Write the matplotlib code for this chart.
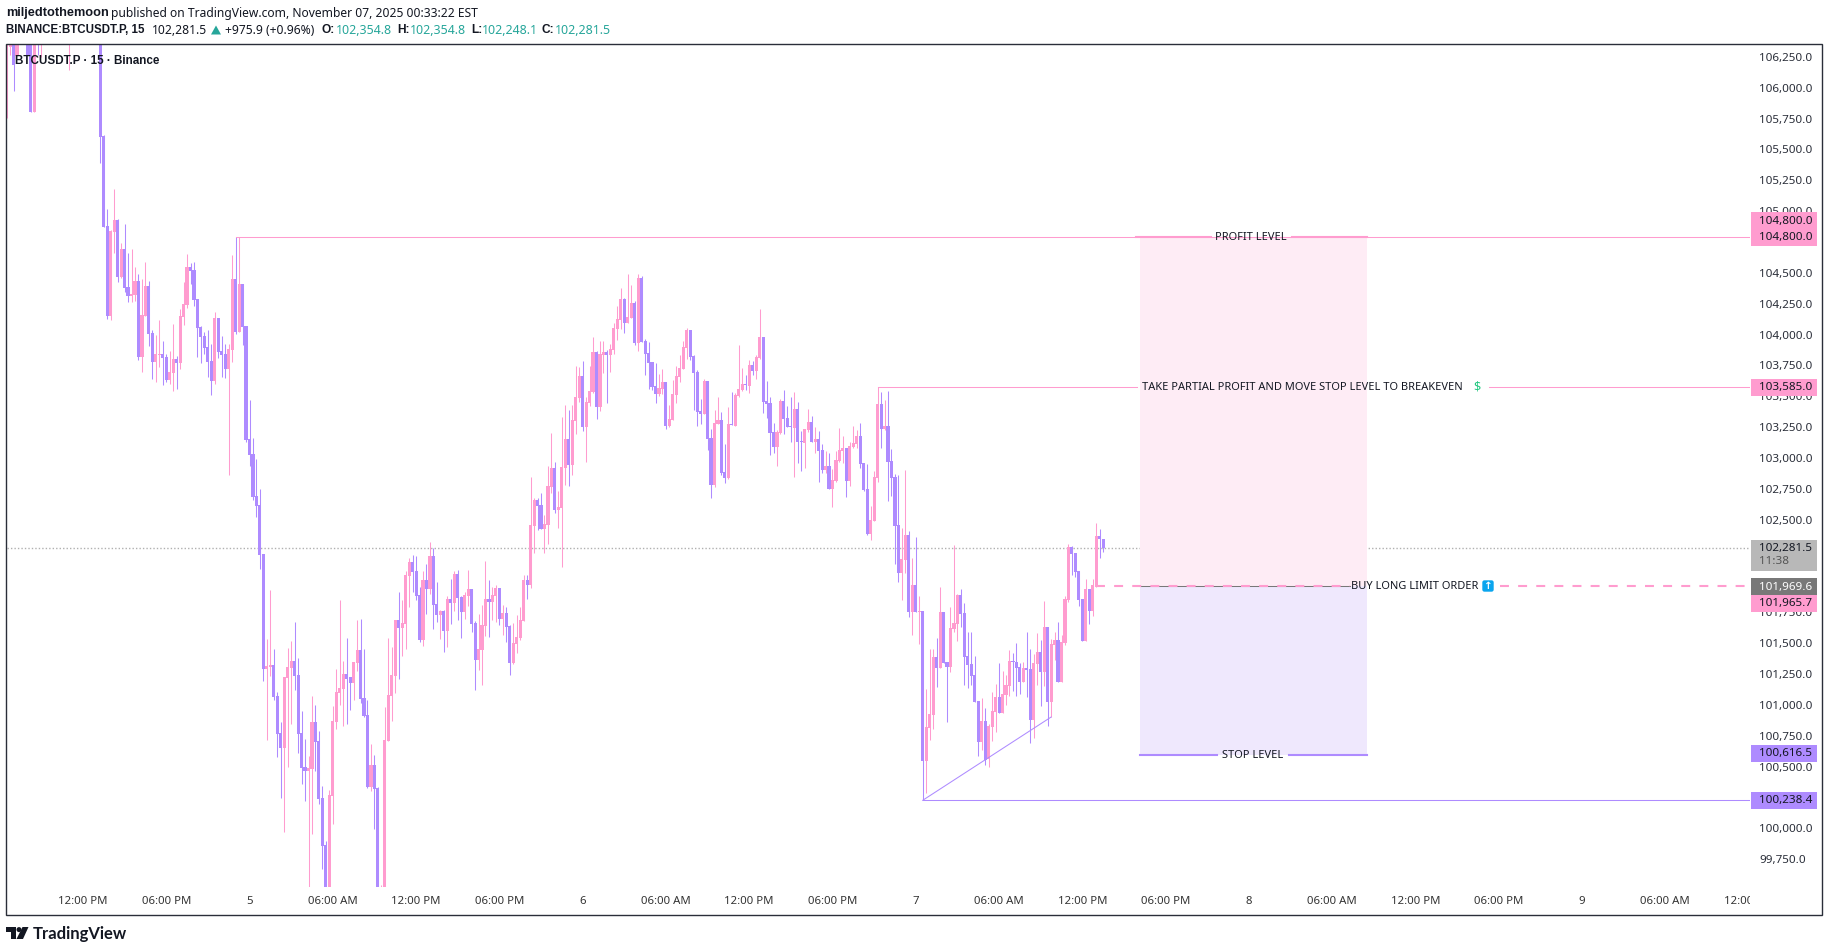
import matplotlib
matplotlib.use("Agg")
import matplotlib.pyplot as plt
from matplotlib.patches import Rectangle, Polygon, Circle, FancyBboxPatch
from matplotlib.transforms import Bbox, ScaledTranslation
import numpy as np

plt.rcParams['font.family'] = ['Noto Sans', 'DejaVu Sans']

# BTCUSDT.P 15 minute bars (bars above the pane are estimates)
opens = [106133,106345,106700,106268,106600,106450,106650,106500,105817,106600,
 106450,106650,106500,106700,106550,106800,106600,106700,106500,106750,
 106600,106500,106650,106800,106600,106700,106500,106550,105623,104891,
 104162,104845,104940,104478,104705,104397,104327,104332,104446,103832,
 104165,104405,104024,103792,103849,103854,103830,103646,103703,103814,
 103784,104157,104254,104559,104535,104300,104073,104000,103911,103797,
 103638,104146,103878,103854,103735,103889,104462,104035,104421,104081,
 103165,103044,102704,102631,102234,101302,101318,101334,101083,100783,
 100662,101229,101310,101367,101253,100783,100508,100475,100491,100872,
 100718,100256,99876,99400,100273,100872,101107,101140,101261,101237,
 101188,101350,101456,101067,100929,100346,100524,100337,99300,99450,
 100718,101083,101245,101699,101634,101666,102055,102169,102096,101901,
 101537,102023,101950,102217,101828,101739,101772,101610,101869,101836,
 102072,101885,101764,101893,101950,101674,101375,101456,101650,101869,
 101845,101893,101958,101707,101755,101650,101350,101504,101553,101690,
 102023,101982,102461,102671,102631,102436,102469,102777,102931,102590,
 102606,102931,103166,102955,103311,103498,103676,103263,103457,103546,
 103870,103425,103846,103870,103846,103887,104057,104130,104300,104105,
 104146,104268,103943,104470,103960,103862,103789,103595,103530,103571,
 103627,103271,103319,103522,103668,103733,103903,104049,103838,103708,
 103392,103368,103635,103174,102793,103287,103319,102898,102850,103287,
 103271,103514,103563,103611,103595,103765,103717,103822,103992,103473,
 103457,103222,103101,103214,103473,103336,103271,103255,103409,103149,
 103133,103238,103303,103141,103166,103076,102914,102947,102760,102825,
 102987,103068,103093,102825,103101,103125,103190,102971,102760,102396,
 102501,102850,103449,103247,103271,102988,102858,102469,102080,102185,
 102388,101764,101983,101764,101772,100557,100824,100929,101399,101310,
 101764,101359,101318,101626,101667,101902,101756,101407,101343,101253,
 101043,100711,100881,100573,100832,100954,101075,100946,101092,101164,
 101367,101359,101318,101197,101310,101302,100889,101343,101440,101278,
 101642,101035,101497,101537,101197,101513,101861,102291,102242,102096,
 101869,101529,101950,101772,101966,102380,102354.8]
highs = [106900,106800,106800,106750,106700,106750,106720,106560,106600,106650,
 106700,106720,106760,106800,106850,106900,106780,106760,106850,106800,
 106700,106750,106880,106850,106780,106720,106650,106700,105625,105029,
 104859,105191,104948,104751,104907,104672,104705,104556,104502,104464,
 104600,104446,104049,104008,104130,103959,103854,103878,104097,103838,
 104219,104437,104664,104591,104600,104300,104081,104032,104049,103938,
 104194,104146,104000,103935,103938,104656,104800,104800,104421,104081,
 103481,103173,103004,102761,102234,101545,101942,101464,101115,100872,
 101237,101472,101529,101683,101391,100961,100735,100597,101083,101010,
 100799,100354,99908,100321,101002,101302,101861,101367,101553,101237,
 101358,101699,101707,101464,101051,100694,100605,100346,99551,100994,
 101553,101480,101699,101926,101861,102096,102201,102225,102217,101966,
 102096,102153,102331,102282,102007,101780,101780,101893,102031,102096,
 102104,101893,101926,102104,101950,101691,101747,101820,102177,102023,
 101966,101982,101958,101820,101804,101658,101674,101739,101804,102063,
 102063,102857,102687,102687,102728,102550,102947,103214,102979,102744,
 103344,103441,103400,103441,103757,103749,103798,103506,103757,103992,
 103879,103960,103960,103887,103935,104105,104243,104389,104308,104503,
 104413,104284,104503,104486,103976,103951,103789,103781,103692,103733,
 103627,103441,103644,103757,103846,103960,104065,104049,103846,103725,
 103490,103652,103635,103247,103400,103506,103384,103125,103425,103546,
 103538,103927,103741,103684,103806,103798,103846,104219,103992,103635,
 103506,103295,103238,103490,103563,103433,103506,103546,103465,103230,
 103247,103409,103352,103263,103230,103125,103068,103052,102922,103068,
 103255,103190,103093,103141,103271,103238,103295,102971,102963,102623,
 102906,103585,103547,103482,103555,103085,102882,102874,102445,102915,
 102420,102202,102372,101894,101772,101140,101464,101464,101553,101967,
 101764,101359,101805,102307,101910,101950,101837,101602,101602,101407,
 101043,101067,100986,100856,101116,101181,101351,101286,101254,101456,
 101432,101513,101351,101359,101602,101464,101424,101594,101537,101853,
 101642,101545,101602,101683,101578,101894,102315,102299,102242,102096,
 101869,102031,101950,102031,102485,102437,102354.8]
lows = [105763,106276,105987,106268,106420,106400,106276,105817,105817,106276,
 106263,106450,106450,106500,106500,106550,106500,106450,106155,106550,
 106450,106450,106600,106550,106550,106450,106480,105404,104880,104140,
 104132,104675,104440,104473,104359,104278,104278,104286,103808,103711,
 104162,103922,103652,103630,103751,103606,103630,103614,103557,103573,
 103735,104092,104230,104424,104246,103832,103784,103857,103670,103525,
 103614,103824,103668,103660,102876,103792,104016,104035,103930,103144,
 102949,102671,102536,102112,101205,100726,101245,101051,100589,100256,
 99981,100508,100856,101132,100621,100370,100232,99400,99965,100475,
 100208,99681,99350,99350,100046,100816,101010,100840,100856,100970,
 101051,101286,101026,100913,100337,100313,100005,99250,99250,99400,
 100718,100880,101107,101221,101407,101464,101804,101926,101861,101520,
 101488,101747,101909,101626,101683,101545,101439,101480,101666,101772,
 101699,101553,101707,101812,101602,101132,101294,101172,101569,101561,
 101699,101683,101658,101577,101520,101253,101342,101428,101536,101690,
 101869,101958,102242,102428,102436,102242,102315,102728,102566,102444,
 102128,102793,102785,102874,103206,103465,103230,102979,103433,103538,
 103328,103392,103700,103457,103708,103854,103968,104057,104024,104105,
 104146,103927,103879,103951,103684,103571,103563,103457,103514,103530,
 103247,103263,103319,103457,103627,103733,103814,103806,103400,103271,
 103287,103368,103076,102687,102777,103287,102874,102809,102841,103279,
 103271,103506,103554,103563,103538,103684,103652,103814,103376,103336,
 103036,103052,102947,103206,103206,103263,103141,102858,102971,102906,
 102931,103222,103141,103052,102817,102890,102890,102760,102614,102817,
 102979,102971,102696,102785,103093,103093,102931,102744,102388,102347,
 102501,102817,103093,103239,102663,102704,102153,102007,101861,102080,
 101723,101578,101764,101505,100238.4,100297,100727,100816,101156,101310,
 101351,100873,101278,101602,101529,101642,101173,101148,101173,101035,
 100597,100646,100524,100508,100719,100792,100946,100946,101010,101083,
 101124,101083,101100,101197,101075,100702,100743,101173,101002,101164,
 100840,100913,101375,101197,101197,101497,101845,102064,102048,101813,
 101529,101529,101667,101732,101966,102202,102248.1]
closes = [106700,106700,106195,106600,106450,106650,106276,105817,106500,106450,
 106600,106500,106700,106550,106800,106600,106700,106500,106750,106600,
 106500,106650,106800,106600,106700,106500,106550,105615,104886,104162,
 104853,104940,104478,104705,104389,104327,104340,104446,103832,104170,
 104405,104019,103792,103854,103854,103824,103646,103708,103814,103784,
 104162,104259,104559,104529,104294,104067,103995,103905,103792,103638,
 104146,103873,103849,103735,103895,104462,104035,104421,104076,103160,
 103038,102698,102623,102226,101302,101326,101334,101078,100775,100662,
 101237,101318,101367,101245,100775,100500,100475,100500,100872,100710,
 100248,99867,99400,100281,100880,101115,101148,101261,101221,101188,
 101358,101456,101059,100921,100346,100524,100329,99300,99450,100726,
 101091,101253,101699,101634,101674,102063,102169,102088,101893,101537,
 102023,101950,102217,101820,101739,101772,101610,101869,101836,102072,
 101877,101764,101901,101950,101666,101375,101464,101658,101869,101845,
 101901,101958,101707,101755,101642,101350,101512,101561,101698,102023,
 101982,102468,102671,102623,102436,102477,102785,102931,102590,102615,
 102939,103166,102955,103319,103506,103676,103263,103465,103554,103870,
 103425,103854,103870,103846,103895,104065,104138,104300,104105,104154,
 104268,103943,104470,103951,103854,103781,103587,103530,103579,103627,
 103271,103328,103530,103676,103741,103911,104049,103830,103700,103384,
 103368,103635,103166,102793,103295,103319,102890,102850,103287,103279,
 103522,103571,103611,103603,103765,103717,103830,103992,103465,103452,
 103214,103101,103222,103473,103328,103263,103263,103409,103141,103141,
 103247,103303,103141,103166,103068,102914,102947,102760,102833,102995,
 103076,103093,102825,103109,103133,103190,102963,102752,102396,102509,
 102858,103449,103247,103271,102979,102850,102461,102080,102193,102388,
 101764,101983,101764,101772,100557,100832,100938,101399,101310,101764,
 101351,101318,101634,101675,101902,101748,101399,101335,101245,101035,
 100711,100881,100565,100840,100962,101075,100946,101100,101172,101367,
 101359,101310,101197,101310,101294,100889,101351,101440,101278,101642,
 101035,101505,101537,101197,101521,101869,102291,102234,102088,101861,
 101529,101950,101772,101983,102380,102356,102281.5]

# time scale labels, every 24 bars
time_ticks = [22,46,70,94,118,142,166,190,214,238,262,286,310,334,358,382,406,430,454,478,502]
time_labels = ['12:00 PM','06:00 PM','5','06:00 AM','12:00 PM','06:00 PM','6','06:00 AM','12:00 PM','06:00 PM',
               '7','06:00 AM','12:00 PM','06:00 PM','8','06:00 AM','12:00 PM','06:00 PM','9','06:00 AM','12:00 PM']
# 100,250 104,750 102,250 and 102,000 sit fully under the price tags
price_ticks = [99750,100000,100500,100750,101000,101250,101500,101750,102500,102750,103000,103250,
               103500,103750,104000,104250,104500,105000,105250,105500,105750,106000,106250]

# levels
profit_level = 104800.0
partial_level = 103585.0
last_price = 102281.5
mark_price = 101969.6
entry_level = 101965.7
stop_level = 100616.5
swing_low = 100238.4
swing_bar = 264
trend_bar = 301
trend_price = 100913

PINK = '#ff9ccf'
PURPLE = '#ae8bff'
DARK = '#131722'
TEAL = '#26a69a'
BOLD = 'Liberation Sans'

W, H = 1829, 952
fig = plt.figure(figsize=(W / 100, H / 100), dpi=100, facecolor='white')

# main pane, 1 px = 8.102 price units, one bar = 3.47 px
ax = fig.add_axes([6.5 / W, 1 - 887 / H, (1750 - 6.5) / W, (887 - 44) / H], zorder=1)
ax.set_xlim(-0.03, 502.4)
ax.set_ylim(99536, 106366)
for s in ax.spines.values():
    s.set_visible(False)

# dotted last price line goes behind the candles
ax.axhline(last_price, color='#b0b0b0', lw=1, ls=(0, (1, 1.5)), zorder=1)

# trade boxes, the drawn edges sit slightly off the tag values
rect_l, rect_r = 326.6, 392.0
entry_edge = entry_level + 7
stop_edge = stop_level - 10
ax.add_patch(Rectangle((rect_l, entry_edge), rect_r - rect_l, profit_level - entry_edge, color='#feecf5', lw=0, zorder=1))
ax.add_patch(Rectangle((rect_l, stop_edge), rect_r - rect_l, entry_edge - stop_edge, color='#efe8fd', lw=0, zorder=1))

# candles
o = np.array(opens, dtype=float)
h = np.array(highs, dtype=float)
l = np.array(lows, dtype=float)
c = np.array(closes, dtype=float)
idx = np.arange(len(o))
up = c >= o
ax.vlines(idx[up], l[up], h[up], color=PINK, lw=0.75, zorder=2)
ax.vlines(idx[~up], l[~up], h[~up], color=PURPLE, lw=0.75, zorder=2)
ax.bar(idx[up], (c - o)[up], bottom=o[up], width=0.9, color=PINK, lw=0, antialiased=False, zorder=3)
ax.bar(idx[~up], (o - c)[~up], bottom=c[~up], width=0.9, color=PURPLE, lw=0, antialiased=False, zorder=3)

# level lines
xmax = 502.4
ax.plot([66, xmax], [profit_level] * 2, color=PINK, lw=0.75, zorder=4)
ax.plot([325.5, 347.1], [profit_level + 6] * 2, color=PINK, lw=1.5, zorder=4)
ax.plot([370.4, 392], [profit_level + 6] * 2, color=PINK, lw=1.5, zorder=4)
ax.plot([251, 325.8], [partial_level] * 2, color=PINK, lw=0.75, zorder=4)
ax.plot([427.2, xmax], [partial_level] * 2, color=PINK, lw=0.75, zorder=4)
ax.plot([326.6, 387.2], [entry_edge] * 2, color='#787878', lw=0.75, zorder=4)
dash = (0, (4.3, 4.4))
ax.plot([314, 387.2], [entry_edge] * 2, color=PINK, lw=1.5, ls=dash, zorder=4)
ax.plot([430.4, xmax], [entry_edge] * 2, color=PINK, lw=1.5, ls=dash, zorder=4)
ax.plot([326.6, 348.8], [stop_edge] * 2, color=PURPLE, lw=1.5, zorder=4)
ax.plot([369.6, 392], [stop_edge] * 2, color=PURPLE, lw=1.5, zorder=4)
ax.plot([swing_bar, xmax], [swing_low] * 2, color=PURPLE, lw=0.75, zorder=4)
ax.plot([swing_bar, trend_bar], [swing_low, trend_price], color=PURPLE, lw=0.75, zorder=4)

# level labels
lab = dict(color=DARK, fontsize=7.95, va='center', zorder=5, clip_on=False)
ax.text(358.6, profit_level - 4, 'PROFIT LEVEL', ha='center', **lab)
ax.text(327.1, partial_level - 4, 'TAKE PARTIAL PROFIT AND MOVE STOP LEVEL TO BREAKEVEN', ha='left', **lab)
ax.text(423.7, partial_level, '$', ha='center', va='center', color='#1fc77e', fontsize=9, fontweight='bold', zorder=5)
ax.text(387.3, entry_edge - 4, 'BUY LONG LIMIT ORDER', ha='left', **lab)
ax.text(359.2, stop_edge - 4, 'STOP LEVEL', ha='center', **lab)

# axes ticks
ax.yaxis.tick_right()
ax.set_yticks(price_ticks)
ax.set_yticklabels([f'{p:,.1f}' for p in price_ticks], fontsize=8.4, color='#2a2e39')
ax.set_xticks(time_ticks)
ax.set_xticklabels(time_labels, fontsize=8.2, color='#333333')
ax.tick_params(axis='both', length=0)
ax.tick_params(axis='y', pad=6.5)
ax.tick_params(axis='x', pad=6.2)
up_shift = ScaledTranslation(0, 1.5 / 100, fig.dpi_scale_trans)
for t in ax.get_yticklabels():
    t.set_transform(t.get_transform() + up_shift)
clip = Bbox([[0, 0], [1750, H]])
for t in ax.get_xticklabels():
    t.set_clip_on(True)
    t.set_clip_box(clip)

# overlay in pixel coordinates for the frame, header, price tags and logo
ov = fig.add_axes([0, 0, 1, 1], zorder=5)
ov.set_xlim(0, W)
ov.set_ylim(H, 0)
ov.axis('off')
ov.patch.set_alpha(0)
ov.add_patch(Rectangle((6, 44), 1816, 871, fill=False, ec='#2a2e39', lw=1))

ov.text(15.3, 61, 'BTCUSDT.P · 15 · Binance', fontsize=8.4, color=DARK, va='center', fontweight='bold', family=BOLD)

# price tags: top, bottom, text, colours
tags = [
    (212, 229, '104,800.0', PINK, DARK),
    (229, 245.7, '104,800.0', PINK, DARK),
    (379, 395.7, '103,585.0', PINK, DARK),
    (578, 595, '101,969.6', '#787878', 'white'),
    (595, 611.7, '101,965.7', PINK, DARK),
    (745, 761.7, '100,616.5', PURPLE, DARK),
    (792, 808.7, '100,238.4', PURPLE, DARK),
]
ov.add_patch(Rectangle((1751, 540), 66, 30.7, color='#b8b8b8', lw=0))
ov.text(1785.4, 548.5, '102,281.5', fontsize=8.4, color=DARK, ha='center', va='center')
ov.text(1759, 562, '11:38', fontsize=8.4, color='#555555', ha='left', va='center')
for top, bot, txt, bg, fg in tags:
    ov.add_patch(Rectangle((1751, top), 66, bot - top, color=bg, lw=0))
    ov.text(1785.4, (top + bot) / 2 + 0.6, txt, fontsize=8.4, color=fg, ha='center', va='center')

# blue arrow badge
ov.add_patch(FancyBboxPatch((1483, 581), 10, 10, boxstyle='round,pad=0,rounding_size=1.5', fc='#0aa5ee', ec='#0aa5ee', lw=1))
ov.text(1488, 586, '↑', color='white', fontsize=7.5, fontweight='bold', ha='center', va='center', family='DejaVu Sans')

# header lines
hd = dict(fontsize=8.7, va='center')
ov.text(6, 13, 'miljedtothemoon', color=DARK, fontweight='bold', family=BOLD, fontsize=9.2, va='center')
ov.text(111, 13, 'published on TradingView.com, November 07, 2025 00:33:22 EST', color=DARK, **hd)
ov.text(6, 30, 'BINANCE:BTCUSDT.P, 15', color=DARK, fontweight='bold', family=BOLD, fontsize=8.3, va='center')
ov.text(151.5, 30, '102,281.5', color=DARK, **hd)
ov.add_patch(Polygon([[211, 34.5], [221, 34.5], [216, 25.5]], color=TEAL, lw=0))
ov.text(225, 30, '+975.9 (+0.96%)', color=DARK, **hd)
for x_k, k, x_v, v in [(322, 'O:', 336, '102,354.8'), (397, 'H:', 410, '102,354.8'),
                       (471.5, 'L:', 482, '102,248.1'), (542, 'C:', 555, '102,281.5')]:
    ov.text(x_k, 30, k, color=DARK, fontweight='bold', family=BOLD, fontsize=8.6, va='center')
    ov.text(x_v, 30, v, color=TEAL, fontsize=8.9, va='center')

# logo
ov.add_patch(Polygon([[6, 927], [15.5, 927], [15.5, 939], [10.5, 939], [10.5, 932], [6, 932]], color=DARK, lw=0))
ov.add_patch(Circle((19, 929.6), 2.5, color=DARK, lw=0))
ov.add_patch(Polygon([[22.5, 927], [28.5, 927], [23, 939], [16.5, 939]], color=DARK, lw=0))
ov.text(33, 934, 'TradingView', fontsize=12, fontweight='bold', color=DARK, va='center', family='Lato')

fig.savefig('out.png', dpi=100, facecolor='white')
